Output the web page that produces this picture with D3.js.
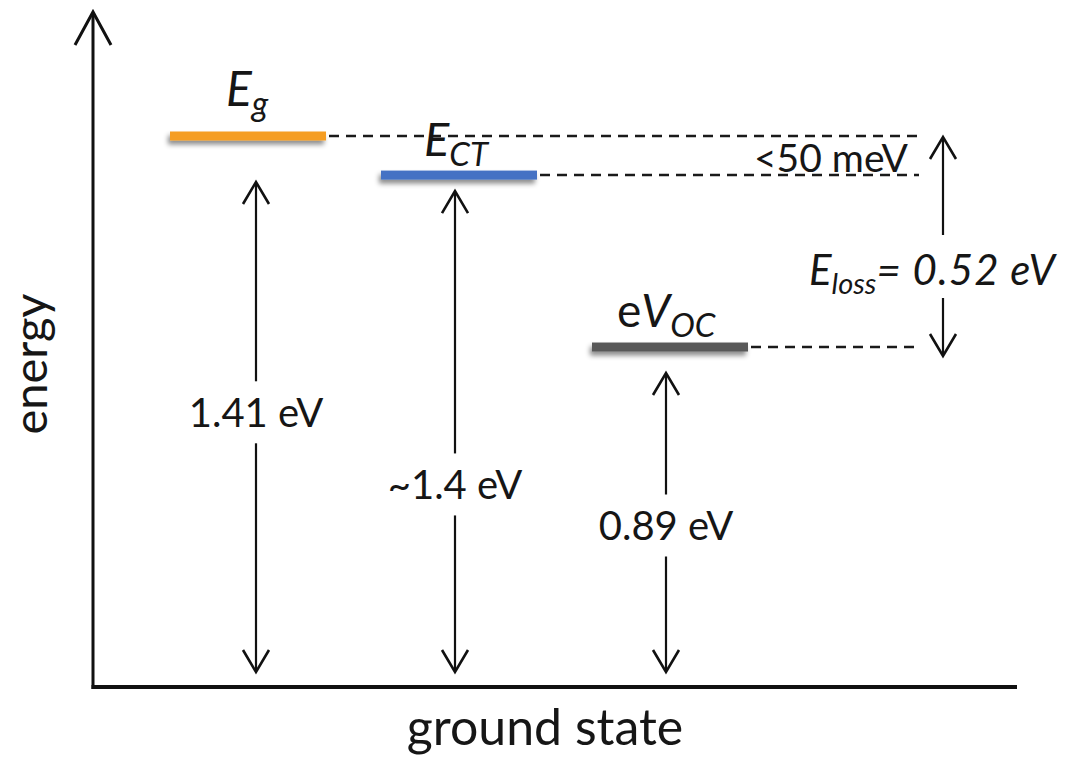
<!DOCTYPE html>
<html><head><meta charset="utf-8">
<script src="https://cdn.jsdelivr.net/npm/d3@7"></script>
<style>
body{margin:0;background:#fff}
text{font-family:Lato,"Open Sans",sans-serif;fill:#161616}
</style>
</head><body>
<svg id="c" width="1091" height="758"></svg>
<script>
// ---- data ----
const levels = ["Eg", "ECT", "eVOC"];
const levelEnergies = [1.41, 1.31, 0.87];          // drawn level heights above ground (schematic, eV)
const valueLabels = ["1.41 eV", "~1.4 eV", "0.89 eV"];
const levelColors = ["#F59D20", "#4472C4", "#595959"];
const gapLabel = "<50 meV";
const lossParts = ["E", "loss", "= 0.52 eV"];
const yAxisLabel = "energy";
const xAxisLabel = "ground state";

// ---- layout ----
const W = 1091, H = 758;
const frame = {left: 93, right: 1017, bottom: 687, top: 12};
const svg = d3.select("#c");
const y = d3.scaleLinear().domain([0, 1.41]).range([frame.bottom, 136]);
const x = d3.scalePoint().domain(levels).range([248, 670]);
const halfBar = 78;
const barH = 9;
const dashEnd = 919;
const lossX = 943;
const arrowTopGap = [46, 16, 26];
const labelFrac = [0.47, 0.61, 0.51];

const defs = svg.append("defs");
const f = defs.append("filter").attr("id", "sh").attr("filterUnits", "userSpaceOnUse")
  .attr("x", 0).attr("y", 0).attr("width", W).attr("height", H);
f.append("feDropShadow").attr("dx", -2).attr("dy", 4).attr("stdDeviation", 2.5)
  .attr("flood-color", "#000").attr("flood-opacity", 0.45);

function chevron(g, cx, tipY, dir, hw, len, sw) {
  g.append("path")
    .attr("d", `M${cx - hw},${tipY + dir * len} L${cx},${tipY} L${cx + hw},${tipY + dir * len}`)
    .attr("fill", "none").attr("stroke", "#111").attr("stroke-width", sw)
    .attr("stroke-linejoin", "miter");
}

// axes (frame)
const ax = svg.append("g");
ax.append("line").attr("x1", frame.left).attr("x2", frame.left)
  .attr("y1", frame.bottom + 2).attr("y2", frame.top + 2)
  .attr("stroke", "#111").attr("stroke-width", 3);
chevron(ax, frame.left, frame.top, 1, 18, 33, 3);
ax.append("line").attr("x1", frame.left - 1.5).attr("x2", frame.right)
  .attr("y1", frame.bottom).attr("y2", frame.bottom)
  .attr("stroke", "#111").attr("stroke-width", 4);

// dashed guide lines
svg.append("g").selectAll("line").data(levels).join("line")
  .attr("x1", d => x(d) + halfBar + 3)
  .attr("x2", dashEnd)
  .attr("y1", (d, i) => y(levelEnergies[i]))
  .attr("y2", (d, i) => y(levelEnergies[i]))
  .attr("stroke", "#1a1a1a").attr("stroke-width", 2.5).attr("stroke-dasharray", "10,7");

// level bars
svg.append("g").selectAll("rect").data(levels).join("rect")
  .attr("x", d => x(d) - halfBar)
  .attr("width", halfBar * 2)
  .attr("y", (d, i) => y(levelEnergies[i]) - barH / 2)
  .attr("height", barH)
  .attr("fill", (d, i) => levelColors[i])
  .attr("filter", "url(#sh)");

// double arrows with value labels
const arr = svg.append("g");
levels.forEach((d, i) => {
  const cx = x(d) + (i === 0 ? 8 : -4);
  const top = y(levelEnergies[i]) + arrowTopGap[i];
  const bot = y(0) - 15;
  arr.append("line").attr("x1", cx).attr("x2", cx).attr("y1", top + 1).attr("y2", bot - 1)
    .attr("stroke", "#111").attr("stroke-width", 2.2);
  chevron(arr, cx, top, 1, 13, 22, 2.6);
  chevron(arr, cx, bot, -1, 13, 22, 2.6);
  const ly = top + labelFrac[i] * (bot - top);
  arr.append("rect").attr("x", cx - 6).attr("y", ly - 31).attr("width", 12).attr("height", 62).attr("fill", "#fff");
  arr.append("text").attr("x", cx).attr("y", ly).attr("dy", "0.36em")
    .attr("text-anchor", "middle").attr("font-size", 40).text(valueLabels[i]);
});

// E_loss arrow
const lg = svg.append("g");
const lt = y(levelEnergies[0]) + 1, lb = y(levelEnergies[2]) + 9;
lg.append("line").attr("x1", lossX).attr("x2", lossX).attr("y1", lt + 1).attr("y2", 235)
  .attr("stroke", "#111").attr("stroke-width", 2.2);
lg.append("line").attr("x1", lossX).attr("x2", lossX).attr("y1", 298).attr("y2", lb - 1)
  .attr("stroke", "#111").attr("stroke-width", 2.2);
chevron(lg, lossX, lt, 1, 13, 22, 2.6);
chevron(lg, lossX, lb, -1, 13, 22, 2.6);
const lossT = lg.append("text").attr("x", 809).attr("y", 285).attr("font-style", "italic").attr("font-size", 42);
lossT.append("tspan").text(lossParts[0]);
lossT.append("tspan").attr("font-size", 29).attr("dy", 9).text(lossParts[1]);
lossT.append("tspan").attr("dy", -9).attr("letter-spacing", 1).text(lossParts[2]);

// <50 meV
svg.append("text").attr("x", 908).attr("y", 172).attr("text-anchor", "end")
  .attr("font-size", 39).text(gapLabel);

// level names
const lab = svg.append("g");
const t1 = lab.append("text").attr("x", 226).attr("y", 106).attr("font-size", 48).attr("font-style", "italic");
t1.append("tspan").text("E");
t1.append("tspan").attr("font-size", 34).attr("dy", 10).text("g");
const t2 = lab.append("text").attr("x", 424).attr("y", 156).attr("font-size", 47).attr("font-style", "italic");
t2.append("tspan").text("E");
t2.append("tspan").attr("font-size", 33).attr("dy", 10).text("CT");
const t3 = lab.append("text").attr("x", 617).attr("y", 327).attr("font-size", 46);
t3.append("tspan").text("e");
t3.append("tspan").attr("font-style", "italic").text("V");
t3.append("tspan").attr("font-style", "italic").attr("font-size", 33).attr("dy", 10).text("OC");

// axis titles
svg.append("text").attr("transform", "translate(47,364) rotate(-90)")
  .attr("text-anchor", "middle").attr("font-size", 47).text(yAxisLabel);
svg.append("text").attr("x", 545).attr("y", 745).attr("text-anchor", "middle")
  .attr("font-size", 50).text(xAxisLabel);
</script>
</body></html>
